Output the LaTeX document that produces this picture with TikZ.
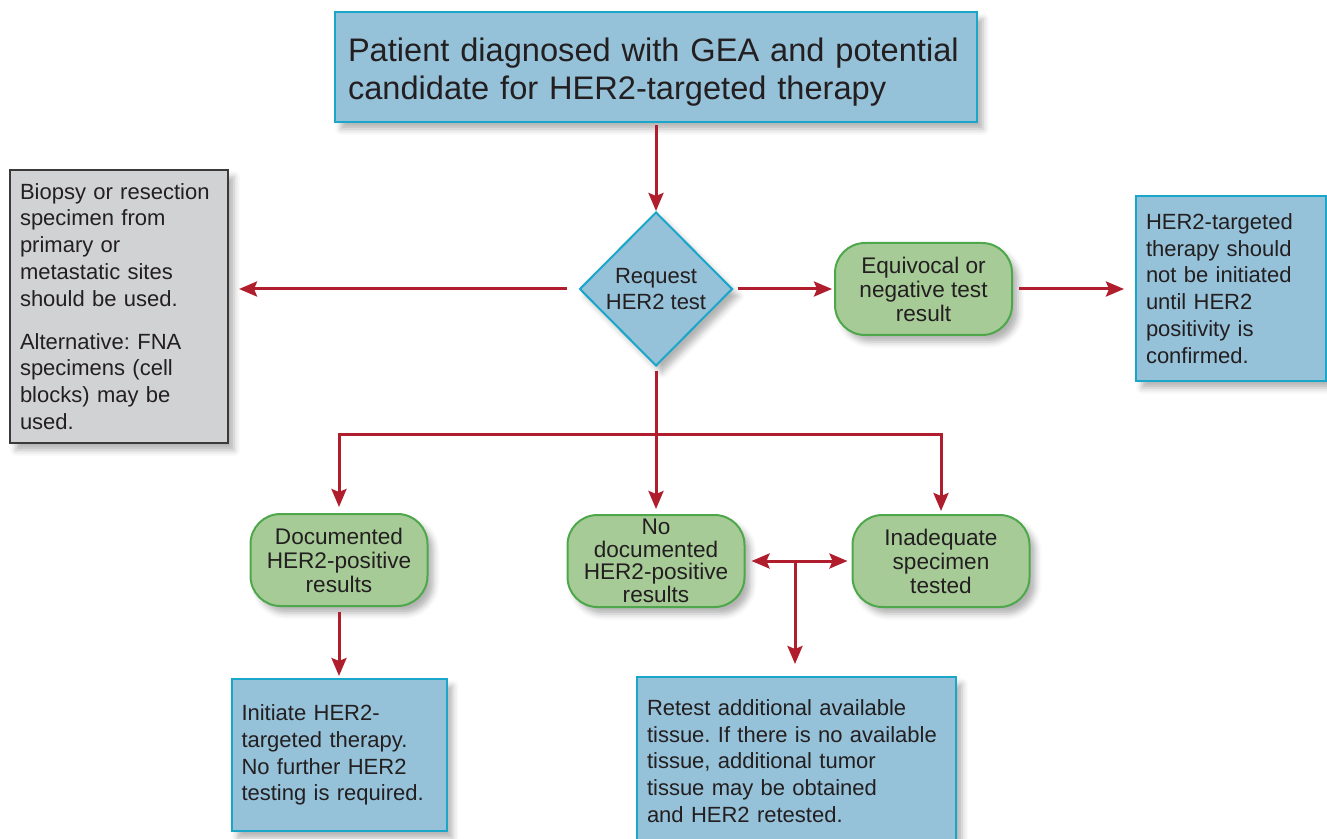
\documentclass[tikz,border=0pt]{standalone}
\usepackage{fontspec}
\setmainfont{Liberation Sans}
\usetikzlibrary{shapes.geometric, arrows.meta, shadows.blur}
\frenchspacing

\definecolor{boxblue}{HTML}{95C1D9}
\definecolor{edgeblue}{HTML}{1AA6C8}
\definecolor{boxgreen}{HTML}{A6CB97}
\definecolor{edgegreen}{HTML}{4EA84B}
\definecolor{boxgray}{HTML}{D1D2D4}
\definecolor{edgegray}{HTML}{3A3A3A}
\definecolor{flowred}{HTML}{B01E2D}
\definecolor{ink}{HTML}{231F20}

\begin{document}
\begin{tikzpicture}[x=0.5pt, y=-0.5pt,
    softshadow/.style={blur shadow={shadow xshift=3pt, shadow yshift=-3.5pt,
        shadow blur radius=3pt, shadow opacity=30}},
    infobox/.style={draw=edgeblue, fill=boxblue, line width=1pt, text=ink,
        align=left, inner xsep=5pt, softshadow,
        execute at begin node={\hyphenpenalty=10000 \exhyphenpenalty=10000},
        font=\fontsize{11}{13.4}\selectfont},
    notebox/.style={infobox, draw=edgegray, fill=boxgray},
    resultbox/.style={draw=edgegreen, fill=boxgreen, line width=1pt, text=ink,
        rounded corners=15pt, align=center, inner sep=0pt, softshadow,
        minimum width=88.5pt, minimum height=46pt,
        font=\fontsize{11.3}{12}\selectfont},
    flow/.style={draw=flowred, line width=1.5pt,
        -{Stealth[length=9pt, width=7.5pt, inset=1.5pt]}},
    twoway/.style={flow, {Stealth[length=9pt, width=7.5pt, inset=1.5pt]}-{Stealth[length=9pt, width=7.5pt, inset=1.5pt]}}]
    \useasboundingbox (0,0) rectangle (1327,839);

    % top and decision
    \node[infobox, inner xsep=6.5pt, text width=308pt, minimum height=55pt,
          font=\fontsize{16.3}{19}\selectfont] (patient) at (656,67)
        {\rule{0pt}{17pt}Patient diagnosed with GEA and potential\\candidate for HER2-targeted therapy};
    \node[diamond, draw=edgeblue, fill=boxblue, line width=1pt, text=ink, align=center,
          inner sep=0pt, minimum width=76.5pt, minimum height=77pt, softshadow,
          font=\fontsize{11}{13}\selectfont] (request) at (656,289) {Request\\HER2 test};

    % side boxes
    \node[notebox, text width=99pt, minimum height=136.5pt] (specimen) at (119,306.5)
        {Biopsy or resection\\specimen from\\primary or\\metastatic sites\\should be used.\\[8pt]
         Alternative: FNA\\specimens (cell\\blocks) may be\\used.};
    \node[resultbox] (equivocal) at (923.5,289) {Equivocal or\\negative test\\result};
    \node[infobox, text width=85pt, minimum height=92.5pt] (wait) at (1231,288.5)
        {HER2-targeted\\therapy should\\not be initiated\\until HER2\\positivity is\\confirmed.};

    % results
    \node[resultbox] (positive) at (339,560) {Documented\\HER2-positive\\results};
    \node[resultbox, font=\fontsize{11.3}{11.3}\selectfont] (nopositive) at (656,561)
        {No\\documented\\HER2-positive\\results};
    \node[resultbox] (inadequate) at (941,561) {Inadequate\\specimen\\tested};

    % actions
    \node[infobox, text width=97.5pt, minimum height=76pt] (initiate) at (339,755)
        {Initiate HER2-\\targeted therapy.\\No further HER2\\testing is required.};
    \node[infobox, text width=149.5pt, minimum height=84pt] (retest) at (796.5,761)
        {Retest additional available\\tissue. If there is no available\\tissue, additional tumor\\tissue may be obtained\\and HER2 retested.};

    \coordinate (split) at (656,434);
    \coordinate (both) at (795,561);

    \draw[flow, shorten <=1pt] (patient) -- (request);
    \draw[flow, shorten <=6pt, shorten >=5pt] (request.west) -- (request.west -| specimen.east);
    \draw[flow, shorten <=2pt, shorten >=1pt] (request.east) -- (equivocal.west);
    \draw[flow, shorten <=3pt, shorten >=5.5pt] (equivocal.east) -- (equivocal.east -| wait.west);
    \draw[flowred, line width=1.5pt, shorten <=2pt] (request.south) -- (split);
    \draw[flow, shorten >=3pt] (split) -| (positive.north);
    \draw[flow, shorten >=2.5pt] (split) -- (nopositive.north);
    \draw[flow, shorten >=1.5pt] (split) -| (inadequate.north);
    \draw[twoway, shorten <=3pt, shorten >=2pt] (nopositive.east) -- (inadequate.west);
    \draw[flow, shorten >=6pt] (both) -- (both |- retest.north);
    \draw[flow, shorten <=2.5pt, shorten >=1pt] (positive.south) -- (initiate.north);
\end{tikzpicture}
\end{document}
